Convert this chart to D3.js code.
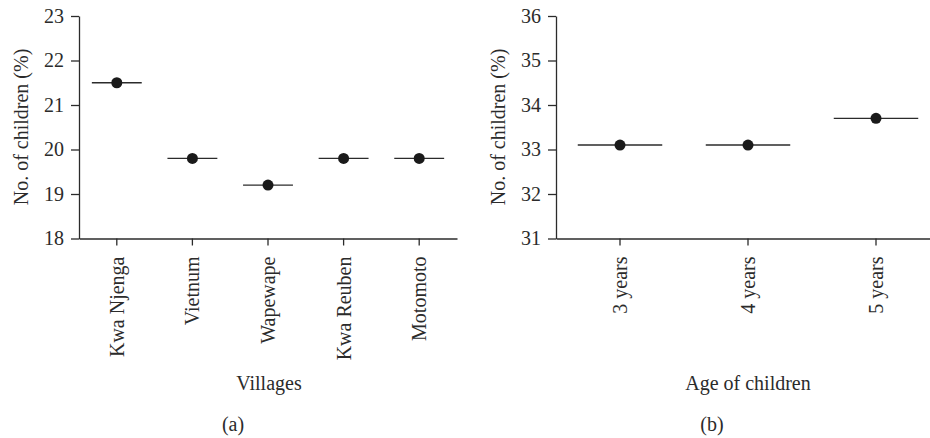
<!DOCTYPE html>
<html><head><meta charset="utf-8">
<script src="https://cdn.jsdelivr.net/npm/d3@7"></script>
<style>
body{margin:0;background:#fff;}
svg{display:block;}
text{font-family:"Liberation Serif","Times New Roman",serif;fill:#2b2b2b;}
</style></head>
<body><svg id="c" width="930" height="438"></svg>
<script>
const villages = ["Kwa Njenga","Vietnum","Wapewape","Kwa Reuben","Motomoto"];
const villageValues = [21.5, 19.8, 19.2, 19.8, 19.8];
const villageTicks = [18,19,20,21,22,23];
const ages = ["3 years","4 years","5 years"];
const ageValues = [33.1, 33.1, 33.7];
const ageTicks = [31,32,33,34,35,36];

const svg = d3.select("#c");
const FS = 20;
const ink = "#2b2b2b";

function panel(cfg){
  const g = svg.append("g");
  const x = d3.scaleBand().domain(cfg.cats).range(cfg.xr).paddingInner(0).paddingOuter(0);
  const y = d3.scaleLinear().domain([cfg.ticks[0], cfg.ticks[cfg.ticks.length-1]]).range([238.5, 16]);
  const yAx = g.append("g").attr("transform",`translate(${cfg.xr[0]},0)`)
    .call(d3.axisLeft(y).tickValues(cfg.ticks).tickFormat(d3.format("d")).tickSize(8).tickPadding(7).tickSizeOuter(0));
  const xAx = g.append("g").attr("transform",`translate(0,${y.range()[0]})`)
    .call(d3.axisBottom(x).tickSize(7).tickSizeOuter(0).tickPadding(0));
  [yAx,xAx].forEach(a=>{
    a.attr("font-size",FS).attr("font-family","Liberation Serif");
    a.selectAll("path,line").attr("stroke",ink).attr("stroke-width",1.3);
    a.selectAll("text").attr("font-size",FS).attr("fill",ink);
  });
  xAx.selectAll(".tick text")
    .attr("transform","translate(0,18) rotate(-90)")
    .attr("text-anchor","end").attr("dy","0.35em").attr("x",0).attr("y",0);
  const bw = x.bandwidth();
  const data = cfg.cats.map((c,i)=>({c, v:cfg.vals[i]}));
  g.selectAll("line.m").data(data).enter().append("line")
    .attr("x1",d=>x(d.c)+bw/2 - bw*0.33).attr("x2",d=>x(d.c)+bw/2 + bw*0.33)
    .attr("y1",d=>y(d.v)).attr("y2",d=>y(d.v))
    .attr("stroke",ink).attr("stroke-width",1.4);
  g.selectAll("circle").data(data).enter().append("circle")
    .attr("cx",d=>x(d.c)+bw/2).attr("cy",d=>y(d.v)).attr("r",5.5).attr("fill","#1a1a1a");
  g.append("text").attr("transform",`translate(${cfg.ylx},127) rotate(-90)`)
    .attr("text-anchor","middle").attr("dy","0.35em").attr("font-size",FS).text("No. of children (%)");
  g.append("text").attr("x",cfg.titleX).attr("y",390)
    .attr("text-anchor","middle").attr("font-size",FS).text(cfg.title);
  g.append("text").attr("x",cfg.capX).attr("y",431).attr("text-anchor","middle").attr("font-size",FS).text(cfg.cap);
}

panel({cats:villages, vals:villageValues, ticks:villageTicks, xr:[79,457], ylx:20.7, title:"Villages", titleX:269, cap:"(a)", capX:233});
panel({cats:ages, vals:ageValues, ticks:ageTicks, xr:[556,940], ylx:498, title:"Age of children", titleX:748, cap:"(b)", capX:712});
</script></body></html>
